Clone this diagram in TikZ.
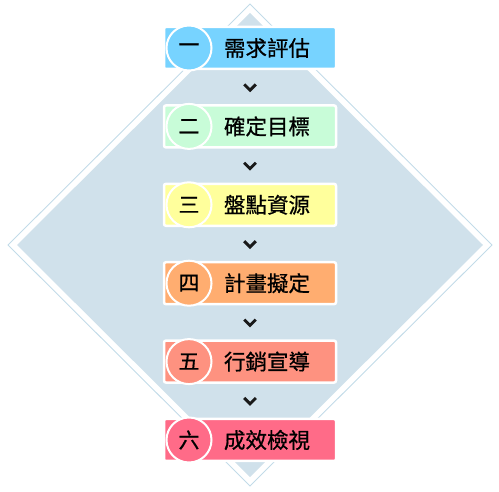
\documentclass[tikz,border=0pt]{standalone}
\usepackage{fontspec}
\usetikzlibrary{calc}
\newfontfamily\cjk[FakeBold=0.7]{Noto Sans CJK TC}
\definecolor{dfill}{HTML}{D0E1EB}
\definecolor{dline}{HTML}{C2DBE8}
\definecolor{cA}{HTML}{77D3FF}
\definecolor{cB}{HTML}{C8FCD8}
\definecolor{cC}{HTML}{FFFF9C}
\definecolor{cD}{HTML}{FFAD70}
\definecolor{cE}{HTML}{FE9280}
\definecolor{cF}{HTML}{FF6B88}
\begin{document}
\begin{tikzpicture}[x=1pt,y=-1pt,
  stepbox/.style={draw=white,line width=2.5pt,rounded corners=2pt,minimum width=172pt,minimum height=42pt,inner sep=0pt},
  numcirc/.style={circle,draw=white,line width=2pt,minimum size=45pt,inner sep=0pt,font=\cjk\fontsize{21}{21}\selectfont},
  lbl/.style={font=\cjk\fontsize{21.5}{22}\selectfont,inner sep=0pt},
  chev/.style={line width=2.9pt,line cap=butt,line join=miter,color=black!90}]
\useasboundingbox (0,0) rectangle (499,492);
\draw[dline,line width=0.9pt] (250,4) coordinate (dt) -- (492,245) coordinate (dr) -- (250,486) coordinate (db) -- (8,245) coordinate (dl) -- cycle;
\fill[dfill] (250,13) -- (483,245) -- (250,477) -- (17,245) -- cycle;
\foreach \i/\c/\n/\t [count=\k from 0] in {A/cA/一/需求評估, B/cB/二/確定目標, C/cC/三/盤點資源, D/cD/四/計畫擬定, E/cE/五/行銷宣導, F/cF/六/成效檢視}{
  \pgfmathsetmacro{\yy}{48+78.4*\k}
  \node[stepbox,fill=\c] (box\i) at (250,\yy) {};
  \node[numcirc,fill=\c] (num\i) at (189,\yy) {\n};
  \node[lbl] (txt\i) at (267,\yy) {\t};
}
\foreach \a/\b in {A/B,B/C,C/D,D/E,E/F}{
  \coordinate (m\a) at ($(box\a.south)!0.5!(box\b.north)$);
  \draw[chev] ([xshift=-5.8pt,yshift=2.8pt]m\a) -- ([yshift=-3pt]m\a) -- ([xshift=5.8pt,yshift=2.8pt]m\a);
}
\end{tikzpicture}
\end{document}
